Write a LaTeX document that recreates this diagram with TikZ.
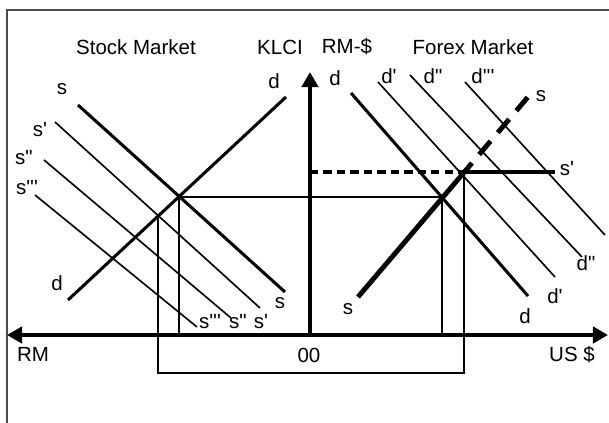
\documentclass[tikz,border=0pt]{standalone}
\usepackage{fontspec}
\setmainfont{Liberation Sans}[Ligatures=TeXOff]
\usetikzlibrary{arrows.meta}

\begin{document}
\begin{tikzpicture}[x=0.03cm,y=-0.03cm,
    lbl/.style={font=\fontsize{17.5}{20}\selectfont,inner sep=0pt},
    thinline/.style={line width=1.4pt},
    heavyline/.style={line width=2.6pt},
    supplyline/.style={line width=4.2pt},
    axisline/.style={line width=3.6pt},
    >={Triangle[length=13pt,width=14pt]}]
  \useasboundingbox (0,0) rectangle (609,423);
  \draw[black!70,line width=0.9pt] (7,423) -- (7,10) -- (609,10);

  % titles
  \node[lbl] (stock) at (136,47) {Stock Market};
  \node[lbl] (klci) at (280,47) {KLCI};
  \node[lbl] (rmusd) at (347,47) {RM-\$};
  \node[lbl] (forex) at (473,47) {Forex Market};

  % axes
  \coordinate (rmend) at (7,335);
  \coordinate (usend) at (608,335);
  \coordinate (origin) at (310,335);
  \coordinate (top) at (310,72);
  \draw[axisline,<->] (rmend) -- (usend);
  \draw[axisline,->] (origin) -- (top);
  \node[lbl] (rm) at (33,354) {RM};
  \node[lbl] (zero) at (309,355) {00};
  \node[lbl] (us) at (572,355) {US \$};

  % stock market
  \coordinate (sA) at (78,105);   \coordinate (sB) at (285,292);
  \coordinate (s1A) at (55,122);  \coordinate (s1B) at (260,308);
  \coordinate (s2A) at (44,160);  \coordinate (s2B) at (231,318);
  \coordinate (s3A) at (35,195);  \coordinate (s3B) at (197,327);
  \coordinate (dA) at (68,300);   \coordinate (dB) at (286,97);
  \draw[heavyline] (sA) -- (sB);
  \draw[thinline] (s1A) -- (s1B);
  \draw[thinline] (s2A) -- (s2B);
  \draw[thinline] (s3A) -- (s3B);
  \draw[heavyline] (dA) -- (dB);
  \node[lbl] (sTop) at (62,89) {s};
  \node[lbl] (s1Top) at (40,130) {s'};
  \node[lbl] (s2Top) at (24,158) {s"};
  \node[lbl] (s3Top) at (27,188) {s'''};
  \node[lbl] (dTop) at (274,81) {d};
  \node[lbl] (dBot) at (57,283) {d};
  \node[lbl] (sBot) at (280,303) {s};
  \node[lbl] (s1Bot) at (261,322) {s'};
  \node[lbl] (s2Bot) at (238,322) {s"};
  \node[lbl] (s3Bot) at (210,322) {s'''};

  % forex market
  \coordinate (fdA) at (351,93);   \coordinate (fdB) at (528,296);
  \coordinate (fd1A) at (378,82);  \coordinate (fd1B) at (555,277);
  \coordinate (fd2A) at (410,75);  \coordinate (fd2B) at (582,257);
  \coordinate (fd3A) at (465,82);  \coordinate (fd3B) at (605,235);
  \coordinate (fsA) at (358,297);  \coordinate (fsM) at (472,163);
  \coordinate (fsB) at (528,97);
  \coordinate (fs1A) at (464,172); \coordinate (fs1B) at (555,172);
  \coordinate (peg) at (310,172);
  \draw[heavyline] (fdA) -- (fdB);
  \draw[thinline] (fd1A) -- (fd1B);
  \draw[thinline] (fd2A) -- (fd2B);
  \draw[thinline] (fd3A) -- (fd3B);
  \draw[supplyline] (fsA) -- (fsM);
  \draw[supplyline,dash pattern=on 15pt off 9.5pt,dash phase=15pt] (fsM) -- (fsB);
  \draw[supplyline] (fs1A) -- (fs1B);
  \draw[supplyline,dash pattern=on 7pt off 4.5pt] (peg) -- (fs1A);
  \node[lbl] (fdTop) at (335,78) {d};
  \node[lbl] (fd1Top) at (389,76) {d'};
  \node[lbl] (fd2Top) at (433,76) {d"};
  \node[lbl] (fd3Top) at (483,76) {d'''};
  \node[lbl] (fsTop) at (541,96) {s};
  \node[lbl] (fs1Top) at (567,169) {s'};
  \node[lbl] (fsBot) at (348,309) {s};
  \node[lbl] (fdBot) at (525,316) {d};
  \node[lbl] (fd1Bot) at (555,296) {d'};
  \node[lbl] (fd2Bot) at (586,263) {d"};

  % links between the two markets
  \coordinate (eqS) at (179,197);
  \coordinate (eqS1) at (158,216);
  \coordinate (eqF) at (442,197);
  \coordinate (boxL) at (158,373);
  \coordinate (boxR) at (464,373);
  \draw[thinline] (eqS) -- (eqF);
  \draw[thinline] (eqS) -- (eqS |- origin);
  \draw[thinline] (eqF) -- (eqF |- origin);
  \draw[thinline] (eqS1) -- (boxL) -- (boxR) -- (fs1A);
\end{tikzpicture}
\end{document}
